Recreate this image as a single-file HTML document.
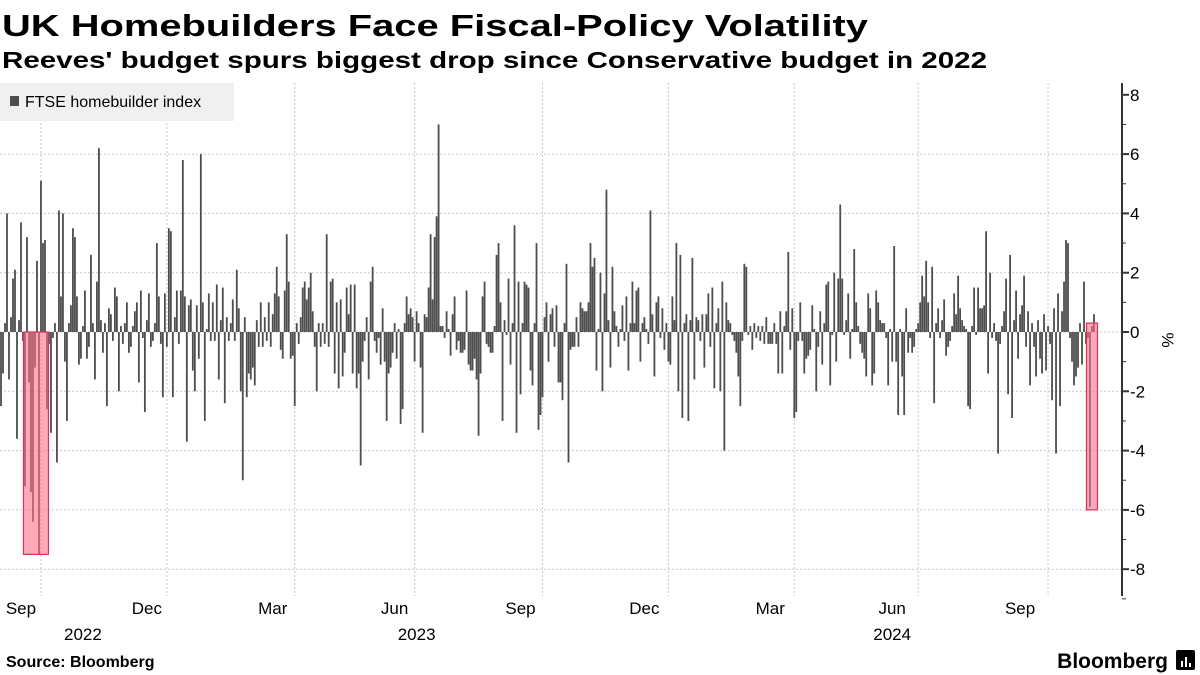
<!DOCTYPE html>
<html><head><meta charset="utf-8"><style>
html,body{margin:0;padding:0;background:#fff;}
svg{display:block;font-family:"Liberation Sans",sans-serif;}
</style></head><body>
<svg id="chart" width="1200" height="675" viewBox="0 0 1200 675">
<text x="2" y="36" font-size="31" font-weight="bold" fill="#000" textLength="866" lengthAdjust="spacingAndGlyphs">UK Homebuilders Face Fiscal-Policy Volatility</text>
<text x="2" y="68" font-size="23" font-weight="bold" fill="#000" textLength="985" lengthAdjust="spacingAndGlyphs">Reeves' budget spurs biggest drop since Conservative budget in 2022</text>
<g id="grid"></g>
<g id="bars"></g>
<g id="highlights"></g>
<g id="axis"></g>
<g>
<rect x="0" y="83" width="234" height="38" fill="#f0f0f0"/>
<rect x="10" y="96" width="9" height="10" fill="#4d4d4d"/>
<text x="25" y="107" font-size="16" fill="#000">FTSE homebuilder index</text>
</g>
<text x="0" y="0" transform="translate(1162,340) rotate(90)" font-size="17" fill="#000" text-anchor="middle">%</text>
<text x="6" y="667" font-size="16" font-weight="bold" fill="#000">Source: Bloomberg</text>
<text x="1168" y="668" font-size="21" font-weight="bold" fill="#000" text-anchor="end">Bloomberg</text>
<g>
<rect x="1176" y="650" width="19" height="20" fill="#000" rx="2"/>
<rect x="1181" y="661" width="2" height="6" fill="#fff"/>
<rect x="1185" y="657" width="2" height="10" fill="#fff"/>
<rect x="1189" y="663" width="2" height="4" fill="#fff"/>
</g>
</svg>
<script>
const values = [
-2.5,-1.4,0.3,4.0,-1.6,0.5,1.8,2.1,-3.6,0.4,3.7,-0.3,-5.2,3.2,-1.7,-5.4,-6.4,-1.2,2.4,-7.5,
5.1,3.0,3.1,-2.6,-0.4,-3.4,-0.2,0.3,-4.4,4.1,1.2,4.0,-1.0,-3.0,0.3,0.9,3.5,3.2,1.2,-1.1,
-0.9,0.2,1.4,-0.9,-0.5,2.6,0.3,-1.6,1.7,6.2,0.4,-0.7,0.3,-2.5,0.8,0.6,-0.3,1.5,1.2,-2.0,
0.2,-0.4,0.3,1.0,-0.7,-0.5,0.2,0.7,1.0,-1.7,1.4,-0.2,-2.7,0.4,1.3,-0.5,-0.3,0.3,3.0,1.2,
-0.4,-2.2,1.3,-0.5,3.5,3.4,-2.2,0.5,1.4,-0.4,1.4,5.8,1.2,-3.7,0.9,1.1,-1.3,-2.0,0.9,-0.9,
6.0,1.0,-3.0,0.1,1.3,-0.3,1.0,-0.3,1.6,-1.6,0.4,1.5,-2.4,0.5,-0.3,0.3,1.1,-0.3,2.1,0.8,
-2.0,-5.0,0.5,-2.2,-1.4,-1.6,-1.2,-1.8,0.4,-0.5,1.0,-0.5,0.5,-0.3,1.0,-0.5,0.6,1.3,2.2,1.2,
-0.6,-0.9,1.4,3.3,1.7,-0.9,-0.8,-2.5,0.3,-0.4,0.5,1.5,1.7,1.1,1.5,2.0,0.7,-0.5,-2.0,0.3,
-0.5,0.3,-0.4,3.3,-0.5,1.7,1.8,-1.4,1.0,-1.9,1.1,-1.5,-0.7,1.5,0.6,1.6,-1.4,1.6,-1.9,-1.4,
-4.5,-1.0,-0.3,0.5,-1.6,1.7,2.2,-0.3,-0.7,-0.2,-1.1,0.8,-1.0,-3.0,-1.4,-1.2,-0.7,0.3,-0.9,0.1,
-3.1,-2.6,0.3,1.2,0.6,0.8,0.5,-1.0,0.7,0.3,-1.2,-3.4,0.6,0.5,1.5,3.3,1.1,3.2,3.9,7.0,
0.2,0.2,-0.2,0.7,0.1,-0.8,0.6,1.2,-0.6,-0.3,-0.7,-0.7,-0.6,1.4,-1.1,-1.3,-1.3,-0.9,-1.6,-3.5,
-1.4,1.2,1.7,-0.4,-0.5,-0.7,-0.7,0.2,2.6,3.0,1.0,-3.0,0.4,-0.1,1.8,-1.1,0.3,3.6,-3.4,1.7,
-2.1,0.3,1.7,1.6,1.5,-1.3,-1.8,0.3,3.0,-3.3,-2.8,-2.2,0.5,1.0,-1.0,0.6,0.8,-0.5,0.9,-1.7,
-1.7,-2.3,0.3,2.3,-4.4,-0.6,-0.5,-0.5,0.5,-0.5,1.0,0.8,0.7,0.7,1.0,3.0,2.2,2.5,-1.3,0.1,
2.0,-2.0,1.3,4.8,0.4,-1.2,2.2,0.7,0.2,-0.5,0.1,0.9,-0.3,1.2,-1.3,0.3,1.7,0.3,1.4,1.5,
-1.0,0.3,0.5,0.1,-0.4,4.1,0.6,-1.5,1.0,1.2,-0.2,0.8,-0.6,0.3,-1.0,-1.1,1.2,0.4,3.0,-2.0,
2.6,-2.9,0.3,0.6,-3.0,0.4,2.5,-1.6,0.5,0.4,-0.3,0.6,-1.2,0.6,1.3,-0.5,1.5,-1.9,0.3,0.8,
-2.0,1.7,-4.0,1.0,0.4,0.3,-0.1,-0.3,-0.7,-1.5,-2.5,-0.3,2.3,2.2,-0.1,0.2,-0.6,0.3,-0.2,0.2,
-0.3,0.2,-0.4,0.5,-0.4,-0.4,-0.4,0.3,-0.4,-1.4,0.7,-1.4,0.2,0.7,2.7,-0.6,0.8,-2.9,-2.7,-0.3,
1.0,-0.3,-1.4,-0.9,-0.8,-0.6,0.9,0.1,-2.0,-0.5,0.7,-1.1,0.3,1.6,1.7,-1.8,-0.1,2.0,-1.0,1.8,
4.3,1.8,-0.1,0.4,1.3,-0.9,0.1,2.8,1.0,0.2,-0.4,-0.7,-0.9,-1.5,1.3,0.8,-1.8,-1.4,1.4,1.0,
0.4,0.3,0.3,-0.2,-1.8,0.1,-1.0,2.9,-1.0,-2.8,0.1,-1.5,-2.8,0.8,-0.7,-0.2,-0.7,-0.5,0.1,0.3,
1.0,1.9,1.2,2.4,1.0,-0.2,2.2,-2.4,0.3,0.8,-0.2,0.4,1.1,-0.8,-0.5,-0.3,0.2,1.3,0.6,1.9,
0.8,0.4,0.2,0.1,-2.5,-2.6,0.2,1.5,-0.1,1.5,0.8,0.8,0.9,3.4,-1.4,2.0,-0.2,0.3,-0.3,-4.1,
-0.4,0.2,0.7,1.8,-2.1,2.6,-2.9,0.4,1.4,-0.9,0.6,0.9,1.9,-0.5,0.7,-1.8,0.3,-0.5,-1.5,0.4,
-0.9,-1.4,0.6,-1.3,0.2,-0.4,-2.3,0.8,-4.1,1.3,-2.5,0.7,1.7,3.1,3.0,-0.2,-1.0,-1.8,-1.5,-1.2,0.3,-1.1,1.7,-0.4,-0.2,-5.9,0.2,0.6
];
const yTicks = [8,6,4,2,0,-2,-4,-6,-8];
const monthLabels = ["Sep","Dec","Mar","Jun","Sep","Dec","Mar","Jun","Sep"];
const monthIndex = [10,73,136,197,260,322,385,446,510];
const gridIndex = [20,83,147,207,271,334,397,459,524];
const yearLabels = ["2022","2023","2024"];
const yearIndex = [41,208,446];
const highlightStart = [12,544];
const highlightEnd = [23,548];
const highlightTop = [0,0.3];
const highlightBottom = [-7.5,-6.0];

const NS="http://www.w3.org/2000/svg";
const X0=1, STEP=(1094-1)/(values.length-1);
const xs=i=>X0+i*STEP;
const ys=v=>332-v*29.65;
function mk(tag,attrs,parent){const e=document.createElementNS(NS,tag);for(const k in attrs)e.setAttribute(k,attrs[k]);parent.appendChild(e);return e;}
const grid=document.getElementById('grid'),bars=document.getElementById('bars'),axis=document.getElementById('axis'),hl=document.getElementById('highlights');

yTicks.forEach(t=>{
  if(t!==8){const l=mk('line',{x1:0,x2:1122,y1:ys(t),y2:ys(t),stroke:'#c8c8c8','stroke-dasharray':'2,2','stroke-width':1},grid);
  
  }
  const tx=mk('text',{x:1130,y:ys(t)+6,'font-size':17,fill:'#000'},axis);
  tx.textContent=(t<0?'-':'')+Math.abs(t);
  
  
});
for(let v=-9;v<=8;v++){
  const major=v%2===0;
  const tk=mk('line',{x1:1122,x2:1122+(major?7:4),y1:ys(v),y2:ys(v),stroke:'#333','stroke-width':major?2:1},axis);
  
  
}
const ax=mk('line',{x1:1122,x2:1122,y1:83,y2:596,stroke:'#333','stroke-width':2},axis);



gridIndex.forEach(i=>{
  const l=mk('line',{x1:xs(i),x2:xs(i),y1:83,y2:596,stroke:'#c8c8c8','stroke-dasharray':'2,2','stroke-width':1},grid);
  
  
});
monthLabels.forEach((m,k)=>{
  const t=mk('text',{x:xs(monthIndex[k]),y:614,'font-size':17,fill:'#000','text-anchor':'middle'},axis);
  t.textContent=m;
  
  
});
yearLabels.forEach((y,k)=>{
  const t=mk('text',{x:xs(yearIndex[k]),y:640,'font-size':17,fill:'#000','text-anchor':'middle'},axis);
  t.textContent=y;
  
  
});

values.forEach((v,i)=>{
  const y1=ys(Math.max(v,0)),y2=ys(Math.min(v,0));
  const r=mk('rect',{x:xs(i)-0.9,y:y1,width:1.8,height:Math.max(y2-y1,0.8),fill:'#4d4d4d'},bars);
  
  
});

highlightStart.forEach((s,k)=>{
  const x1=xs(s)-1.5,x2=xs(highlightEnd[k])+1.5;
  const r=mk('rect',{x:x1,y:ys(highlightTop[k]),width:x2-x1,height:ys(highlightBottom[k])-ys(highlightTop[k]),fill:'#ff6f88','fill-opacity':0.6,stroke:'#d8315b','stroke-width':1.2},hl);
  
  
});
</script>
</body></html>
